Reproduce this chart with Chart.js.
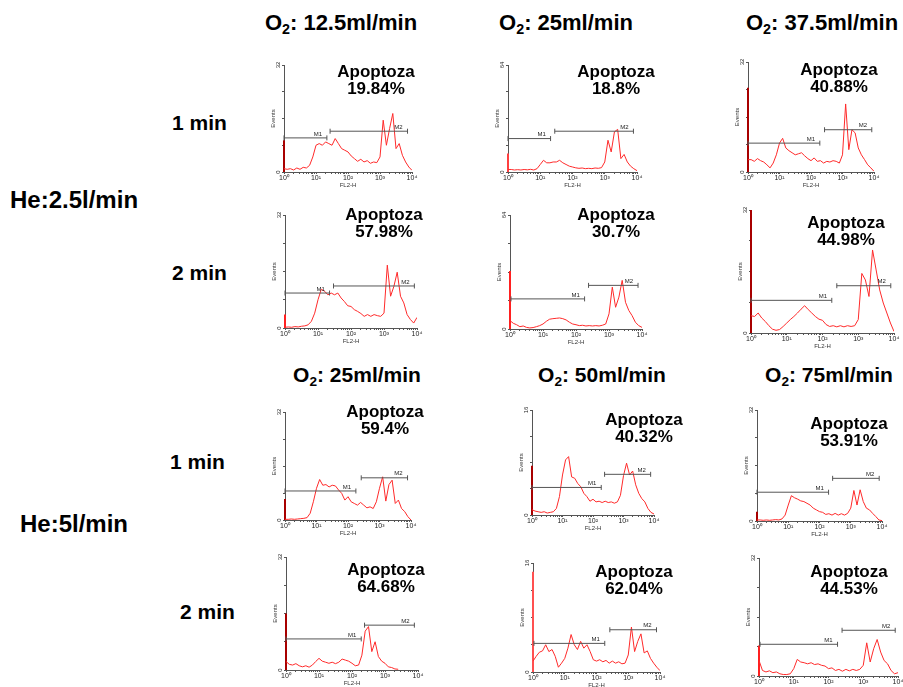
<!DOCTYPE html>
<html>
<head>
<meta charset="utf-8">
<script src="https://cdn.jsdelivr.net/npm/chart.js@4.4.1/dist/chart.umd.min.js"></script>
<style>
  html, body { margin: 0; padding: 0; background: #fff; }
  body { width: 903px; height: 687px; position: relative; overflow: hidden;
         font-family: "Liberation Sans", Arial, sans-serif; color: #000; }
  .txt { position: absolute; font-weight: bold; white-space: nowrap; line-height: 1; }
  .cab { font-size: 22px; width: 200px; text-align: center; }
  .cab.abajo { font-size: 21px; }
  .cab sub { font-size: 0.65em; vertical-align: -0.3em; line-height: 0; }
  .gas { font-size: 24px; }
  .min { font-size: 21px; }
  .apo { font-size: 17px; line-height: 17px; width: 120px; text-align: center; }
  .panel { position: absolute; }
</style>
</head>
<body>
<div class="txt cab" style="left:241px;top:12px">O<sub>2</sub>: 12.5ml/min</div>
<div class="txt cab" style="left:466px;top:12px">O<sub>2</sub>: 25ml/min</div>
<div class="txt cab" style="left:722px;top:12px">O<sub>2</sub>: 37.5ml/min</div>
<div class="txt cab abajo" style="left:257px;top:364px">O<sub>2</sub>: 25ml/min</div>
<div class="txt cab abajo" style="left:502px;top:364px">O<sub>2</sub>: 50ml/min</div>
<div class="txt cab abajo" style="left:729px;top:364px">O<sub>2</sub>: 75ml/min</div>
<div class="txt gas" style="left:10px;top:188px">He:2.5l/min</div>
<div class="txt gas" style="left:20px;top:512px">He:5l/min</div>
<div class="txt min" style="left:172px;top:112px">1 min</div>
<div class="txt min" style="left:172px;top:262px">2 min</div>
<div class="txt min" style="left:170px;top:451px">1 min</div>
<div class="txt min" style="left:180px;top:601px">2 min</div>

<script>
// Histogramas FL2-H (eje x en décadas log10, de 10^0 a 10^4).
var decadas = [0, 0.1, 0.2, 0.3, 0.4, 0.5, 0.6, 0.7, 0.8, 0.9,
               1, 1.1, 1.2, 1.3, 1.4, 1.5, 1.6, 1.7, 1.8, 1.9,
               2, 2.1, 2.2, 2.3, 2.4, 2.5, 2.6, 2.7, 2.8, 2.9,
               3, 3.1, 3.2, 3.3, 3.4, 3.5, 3.6, 3.7, 3.8, 3.9, 4];
var decadaEtiquetas = ['10\u2070', '10\u00b9', '10\u00b2', '10\u00b3', '10\u2074'];

var curva1 = [1, 0.8, 1, 0.6, 1.2, 0.8, 1.4, 1.2, 2, 4.5, 8, 8.5, 8, 9, 8.5, 8, 10, 8.5, 7, 6.5,
              6, 4.8, 4, 3.2, 3.8, 3, 3.4, 2.6, 3, 2.8, 4.5, 15.5, 8, 13, 17.5, 7, 8.5, 5, 3, 1.5, 0.5];
var curva2 = [1.5, 1.5, 1.2, 1.4, 1.2, 1.5, 1.3, 1.6, 1.2, 2, 4.5, 7, 5.5, 5.5, 6, 6, 7, 5.5, 4.5, 3.5,
              3, 2.5, 2.2, 2.4, 2, 2.2, 2, 2.4, 2.2, 2.6, 6, 19, 12, 24, 25.5, 8, 10.5, 6, 3.5, 2, 0.8];
var curva3 = [3.6, 3.6, 3.1, 3.9, 3.3, 2.9, 2.1, 1.2, 2.6, 5, 8.4, 9.8, 7, 6.2, 5.6, 5, 5.3, 5.6, 4.7, 3.9,
              3.3, 4.1, 3.1, 3.3, 2.6, 3.1, 2.9, 3.3, 3.1, 2.6, 5, 19.8, 6.5, 12.3, 11.4, 7, 5, 3.6, 2.1, 1.2, 0.2];
var curva4 = [0.2, 0.3, 0.2, 0.4, 0.3, 0.5, 0.6, 0.9, 1.9, 4.2, 8, 11, 10.4, 9.4, 9.9, 9.4, 9.9, 8.5, 7.5, 6.3,
              6.1, 5.2, 4.7, 4.1, 3.3, 3.8, 3.3, 3.8, 3.5, 3.3, 4.2, 17.8, 9, 11.8, 15.8, 9, 7.1, 3.8, 2.4, 1.4, 3];
var curva5 = [4.7, 3.2, 2.4, 1.3, 1.7, 0.9, 0.6, 0.8, 1.3, 1.9, 2.8, 4.3, 5.5, 5.8, 6, 6.2, 5.8, 5.1, 3.8, 2.8,
              2.4, 1.9, 2.1, 1.7, 1.9, 1.7, 1.9, 1.7, 2.1, 2.8, 8.5, 23.5, 12.2, 17.9, 27.3, 15, 10.4, 7.5, 3.8, 1.9, 0.9];
var curva6 = [4.5, 4.3, 5.2, 3.9, 3, 1.9, 1, 0.7, 0.9, 1.7, 2.6, 3.5, 4.3, 5.2, 6.2, 7.1, 6.1, 5.2, 4.3, 3.6,
              3.3, 2.2, 1.7, 1.9, 1.6, 1.9, 1.6, 1.9, 1.7, 1.9, 3.5, 15.5, 13.8, 9.5, 21.6, 16.4, 11.2, 7.8, 5.2, 2.6, 0.4];
var curva7 = [0.2, 0.2, 0.3, 0.2, 0.3, 0.4, 0.5, 0.7, 2, 5.4, 9.4, 12, 10.3, 10.5, 9.8, 10.3, 10.1, 8.9, 7.9, 5.9,
              6.9, 5.4, 4.9, 4.4, 5.2, 4.4, 3.6, 3.9, 3.4, 5.4, 9.4, 12.8, 5.6, 10.5, 11.8, 4.9, 5.9, 3.4, 2.5, 1, 0];
var curva8 = [0.8, 0.6, 0.5, 0.4, 0.5, 0.3, 0.4, 0.5, 1, 2.8, 6.1, 8.4, 8.9, 5.8, 5.6, 4.8, 4.3, 3.3, 2.8, 2.1,
              2.4, 2, 2.1, 1.9, 2.1, 1.9, 2, 1.8, 2, 3, 6, 7.9, 6.1, 6.7, 4.6, 3.3, 2.5, 2, 1, 0.4, 0.15];
var curva9 = [0.3, 0.3, 0.2, 0.3, 0.2, 0.3, 0.4, 0.3, 0.6, 1.7, 4.6, 7.3, 6.7, 6.3, 5.8, 5.6, 5.1, 4.6, 3.7, 3.2,
              2.7, 2.5, 1.9, 2.1, 1.7, 2.2, 1.7, 2.1, 1.7, 2.2, 3.7, 8.8, 4.6, 9, 5.6, 3.7, 3.2, 2.2, 1.3, 0.3, 0.1];
var curva10 = [2.4, 1.6, 1.4, 1.8, 1.2, 0.9, 1.2, 0.8, 1.4, 2.4, 3.3, 2.5, 2.2, 1.9, 2.2, 1.8, 2.2, 3.1, 2.8, 2.5,
               1.9, 1.2, 1.4, 4.2, 11, 12.3, 5.2, 8, 3.8, 2.5, 1.9, 0.9, 0.7, 0.3, 0.2, null, null, null, null, null, null];
var curva11 = [1.6, 2.3, 2.9, 3.1, 4, 3, 3.3, 2.3, 0.7, 1.3, 2, 3.5, 5.5, 4, 3.3, 4.5, 3.5, 4, 3, 1.8,
               1.6, 1.8, 1.5, 1.7, 1.3, 1.6, 1.3, 1.5, 1.2, 1.3, 2.5, 6.6, 3, 4.5, 5.6, 2.8, 3.1, 2, 1.3, 0.7, 0.2];
var curva12 = [4.2, 1.5, 1.1, 1.4, 0.9, 1.1, 0.6, 0.4, 0.4, 0.6, 2, 4.5, 3.8, 3.6, 3.3, 3.6, 3.1, 3.3, 2.9, 2.7,
               2, 2.2, 1.5, 1.8, 1.3, 1.8, 1.4, 1.8, 1.5, 1.8, 2.9, 9, 3.8, 7.4, 9.9, 6.5, 4.2, 3.3, 1.5, 0.6, 0.9];
var curvas = [curva1, curva2, curva3, curva4, curva5, curva6, curva7, curva8, curva9, curva10, curva11, curva12];

// eventos en el primer canal (10^0)
var picos = [9.5, 11, 24.5, 3.8, 32.6, 32, 6.2, 7.5, 2.7, 16, 14.7, 8.3];
var maxEventos = [32, 64, 32, 32, 64, 32, 32, 16, 32, 32, 16, 32];

// marcadores [inicio, fin, altura]
var marcadorM1 = [[0, 1.34, 10.2], [0, 1.32, 20], [0, 2.28, 8.4], [0, 1.35, 9.9], [0.03, 2.26, 16.9], [0, 2.26, 8.5],
                  [0, 2.25, 8.6], [0, 2.27, 4.2], [0, 2.29, 8.3], [0, 2.28, 8.8], [0.03, 2.26, 4.2], [0.03, 2.26, 8.6]];
var marcadorM2 = [[1.44, 3.86, 12.2], [1.45, 3.89, 24.4], [2.43, 3.93, 12.3], [1.47, 3.92, 11.9], [2.38, 3.88, 24.5], [2.4, 3.91, 12.3],
                  [2.42, 3.89, 12.5], [2.38, 3.89, 6.2], [2.42, 3.91, 12.3], [2.38, 3.89, 12.7], [2.42, 3.89, 6.2], [2.39, 3.92, 12.4]];

var apoptoza = ['19.84%', '18.8%', '40.88%', '57.98%', '30.7%', '44.98%',
                '59.4%', '40.32%', '53.91%', '64.68%', '62.04%', '44.53%'];

// posición de cada área de gráfico en la página, texto "Apoptoza" y color del pico
var cajas = [
  { l: 284, t: 65, r: 412, b: 172, ax: 376, ay: 63, pico: '#a80000' },
  { l: 508, t: 65, r: 637, b: 172, ax: 616, ay: 63, pico: '#ff4040' },
  { l: 748, t: 62, r: 874, b: 172, ax: 839, ay: 61, pico: '#a80000' },
  { l: 285, t: 215, r: 417, b: 328, ax: 384, ay: 206, pico: '#ff2020' },
  { l: 510, t: 215, r: 642, b: 329, ax: 616, ay: 206, pico: '#ff2020' },
  { l: 751, t: 210, r: 894, b: 333, ax: 846, ay: 214, pico: '#a80000' },
  { l: 285, t: 412, r: 411, b: 520, ax: 385, ay: 403, pico: '#a80000' },
  { l: 532, t: 410, r: 654, b: 515, ax: 644, ay: 411, pico: '#a80000' },
  { l: 757, t: 410, r: 882, b: 521, ax: 849, ay: 415, pico: '#a80000' },
  { l: 286, t: 557, r: 418, b: 670, ax: 386, ay: 561, pico: '#a80000' },
  { l: 533, t: 563, r: 660, b: 672, ax: 634, ay: 563, pico: '#ff5050' },
  { l: 759, t: 558, r: 898, b: 676, ax: 849, ay: 563, pico: '#ff2020' },
];

var FUENTE = '"Liberation Sans", Arial, sans-serif';
var GRIS = '#555';
Chart.defaults.font.family = FUENTE;

// marcas menores del eje log
var ticksX = [];
for (var dd = 0; dd < 4; dd++) {
  for (var m = 1; m < 10; m++) ticksX.push(dd + Math.log10(m));
}
ticksX.push(4);

// rótulos girados del eje y y nombres de marcadores
var rotulos = {
  id: 'rotulos',
  afterDraw: function (chart, args, opts) {
    var ctx = chart.ctx, x = chart.scales.x, y = chart.scales.y;
    ctx.save();
    ctx.fillStyle = '#222';
    ctx.font = '6px ' + FUENTE;
    ctx.textAlign = 'center';
    ctx.textBaseline = 'middle';
    [0, opts.max].forEach(function (v) {
      ctx.save();
      ctx.translate(y.right - 6, y.getPixelForValue(v));
      ctx.rotate(-Math.PI / 2);
      ctx.fillText(String(v), 0, 0);
      ctx.restore();
    });
    ctx.textBaseline = 'bottom';
    opts.marcas.forEach(function (mk) {
      ctx.fillText(mk.texto, x.getPixelForValue(mk.fin) - 9, y.getPixelForValue(mk.alto) - 1);
    });
    ctx.restore();
  },
};

function marcador(mk) {
  return {
    data: [{ x: mk[0], y: mk[2] }, { x: mk[1], y: mk[2] }],
    borderColor: GRIS, borderWidth: 1,
    pointStyle: 'line', pointRotation: 90, pointRadius: 2.5,
    pointBorderColor: GRIS, pointBorderWidth: 1, clip: false,
  };
}

function panel(i) {
  var c = cajas[i];
  var w = c.r - c.l + 14 + 8, h = c.b - c.t + 5 + 17;
  var div = document.createElement('div');
  div.className = 'panel';
  div.style.left = (c.l - 14) + 'px';
  div.style.top = (c.t - 5) + 'px';
  var canvas = document.createElement('canvas');
  canvas.width = w; canvas.height = h;
  canvas.style.width = w + 'px'; canvas.style.height = h + 'px';
  div.appendChild(canvas);
  document.body.appendChild(div);

  var apo = document.createElement('div');
  apo.className = 'txt apo';
  apo.style.left = (c.ax - 60) + 'px';
  apo.style.top = c.ay + 'px';
  apo.innerHTML = 'Apoptoza<br>' + apoptoza[i];
  document.body.appendChild(apo);

  var traza = decadas.map(function (d, k) { return { x: d, y: curvas[i][k] }; });
  var ymax = maxEventos[i];

  new Chart(canvas.getContext('2d'), {
    type: 'line',
    data: {
      datasets: [
        marcador(marcadorM1[i]),
        marcador(marcadorM2[i]),
        { data: traza, borderColor: '#ff2a2a', borderWidth: 1, pointRadius: 0, tension: 0, spanGaps: false },
        { data: [{ x: 0, y: 0 }, { x: 0, y: picos[i] }], borderColor: c.pico, borderWidth: 2, pointRadius: 0, clip: false },
      ],
    },
    options: {
      responsive: false,
      animation: false,
      events: [],
      layout: { padding: { top: 5, right: 8, left: 0, bottom: 0 } },
      plugins: {
        legend: { display: false },
        tooltip: { enabled: false },
        rotulos: {
          max: ymax,
          marcas: [
            { texto: 'M1', fin: marcadorM1[i][1], alto: marcadorM1[i][2] },
            { texto: 'M2', fin: marcadorM2[i][1], alto: marcadorM2[i][2] },
          ],
        },
      },
      scales: {
        x: {
          type: 'linear', min: 0, max: 4,
          afterBuildTicks: function (s) { s.ticks = ticksX.map(function (v) { return { value: v }; }); },
          afterFit: function (s) { s.height = 17; },
          grid: { drawOnChartArea: false, tickLength: 2, color: GRIS },
          border: { color: GRIS, width: 1 },
          ticks: {
            autoSkip: false, maxRotation: 0, minRotation: 0, padding: 0,
            font: { size: 7 }, color: '#222',
            callback: function (v) {
              var k = Math.round(v);
              return Math.abs(v - k) < 1e-6 ? decadaEtiquetas[k] : '';
            },
          },
          title: { display: true, text: 'FL2-H', font: { size: 6 }, color: '#333', padding: 0 },
        },
        y: {
          min: 0, max: ymax,
          afterFit: function (s) { s.width = 14; },
          grid: { drawOnChartArea: false, tickLength: 2, color: GRIS },
          border: { color: GRIS, width: 1 },
          ticks: { display: false, stepSize: ymax / 4 },
          title: { display: true, text: 'Events', font: { size: 6 }, color: '#333', padding: 0 },
        },
      },
    },
    plugins: [rotulos],
  });
}

for (var i = 0; i < cajas.length; i++) panel(i);
</script>
</body>
</html>
